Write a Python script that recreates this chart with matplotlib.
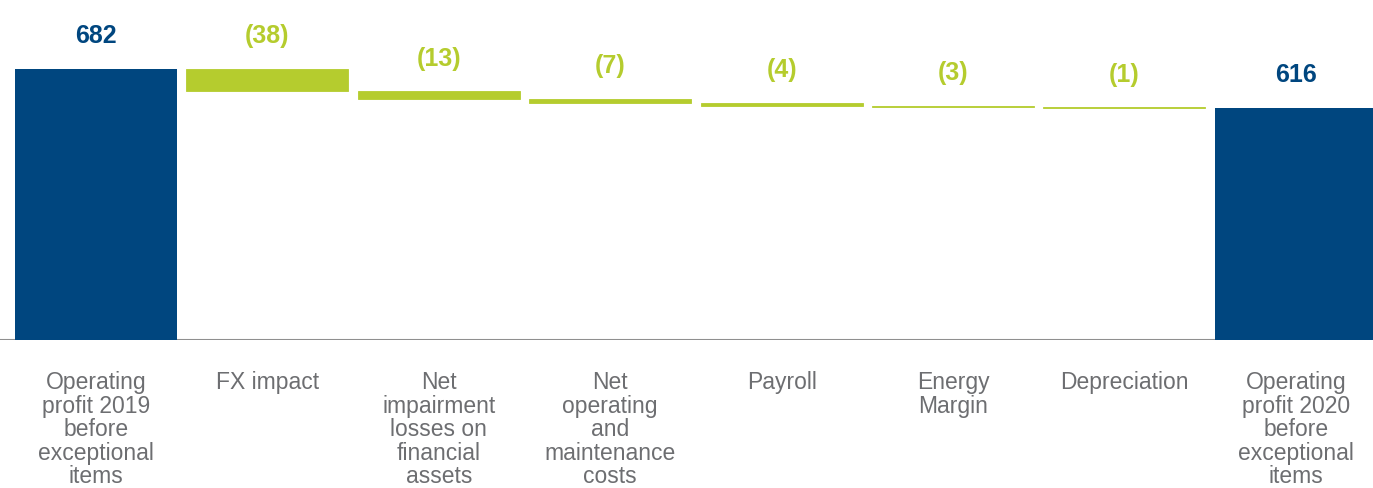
import numpy as np
import matplotlib.pyplot as plt

plt.rcParams['font.family'] = ['Liberation Sans', 'DejaVu Sans']

# Operating profit bridge 2019 -> 2020
categories = [
    'Operating\nprofit 2019\nbefore\nexceptional\nitems',
    'FX impact',
    'Net\nimpairment\nlosses on\nfinancial\nassets',
    'Net\noperating\nand\nmaintenance\ncosts',
    'Payroll',
    'Energy\nMargin',
    'Depreciation',
    'Operating\nprofit 2020\nbefore\nexceptional\nitems',
]
start_value = 682
changes = [-38, -13, -7, -4, -3, -1]
end_value = 616

blue = '#00467f'
green = '#b5cc2e'
text_grey = '#6d6e71'

fig = plt.figure(figsize=(13.73, 4.88), dpi=100)
ax = fig.add_axes([0.0, 0.3033, 1.0, 0.6967])

x = np.arange(len(categories))
width = 0.945

# running totals for the floating bars
tops = start_value + np.concatenate([[0], np.cumsum(changes)[:-1]])
bottoms = tops + np.array(changes)

ax.bar(x[0], start_value, width=width, color=blue)
ax.bar(x[1:-1], tops - bottoms, bottom=bottoms, width=width, color=green,
       edgecolor=green, linewidth=0.6)
ax.bar(x[-1], end_value, width=width, color=blue)

def label(xpos, top, text, color):
    ax.annotate(text, (xpos, top), xytext=(0, 15), textcoords='offset points',
                ha='center', va='bottom', fontsize=18, fontweight='bold', color=color)

label(x[0], start_value, f'{start_value}', blue)
for xi, top, ch in zip(x[1:-1], tops, changes):
    label(xi, top, f'({abs(ch)})', green)
label(x[-1], end_value, f'{end_value}', blue)

# category names under the baseline
for xi, name in zip(x, categories):
    ax.text(xi, -0.092, name, transform=ax.get_xaxis_transform(), ha='center', va='top',
            fontsize=16.5, color=text_grey, linespacing=1.03)

ax.axhline(223, color='#8f8f8f', linewidth=1.5, zorder=0)
ax.set_xlim(-0.56, 7.45)
ax.set_ylim(223, 799)
ax.axis('off')

fig.savefig('out.png', dpi=100)
